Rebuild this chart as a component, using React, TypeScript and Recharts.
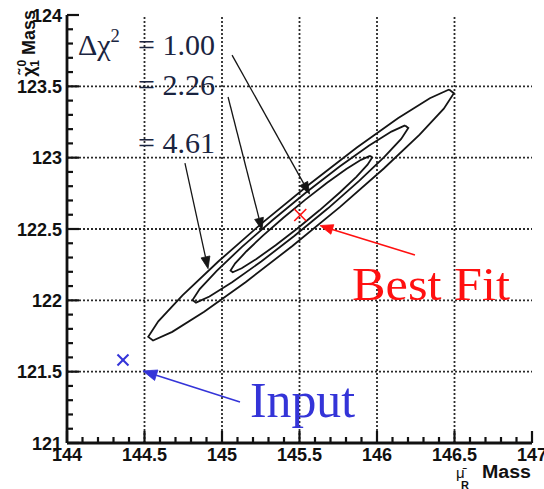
import React from "react";
import {
  ReferenceLine,
  Scatter,
  ScatterChart,
  XAxis,
  YAxis,
} from "recharts";

// axis ticks (major every 0.5, minor every 0.1)
const X_TICKS = [
  144, 144.1, 144.2, 144.3, 144.4, 144.5, 144.6, 144.7, 144.8, 144.9,
  145, 145.1, 145.2, 145.3, 145.4, 145.5, 145.6, 145.7, 145.8, 145.9,
  146, 146.1, 146.2, 146.3, 146.4, 146.5, 146.6, 146.7, 146.8, 146.9, 147,
];
const Y_TICKS = [
  121, 121.1, 121.2, 121.3, 121.4, 121.5, 121.6, 121.7, 121.8, 121.9,
  122, 122.1, 122.2, 122.3, 122.4, 122.5, 122.6, 122.7, 122.8, 122.9,
  123, 123.1, 123.2, 123.3, 123.4, 123.5, 123.6, 123.7, 123.8, 123.9, 124,
];
const GRID_X = [144.5, 145, 145.5, 146, 146.5];
const GRID_Y = [121.5, 122, 122.5, 123, 123.5];

// contours
const CONTOUR_461 = [
  { x: 146.465, y: 123.478 }, { x: 146.496, y: 123.452 }, { x: 146.431, y: 123.343 },
  { x: 146.275, y: 123.161 }, { x: 146.044, y: 122.924 }, { x: 145.762, y: 122.655 },
  { x: 145.454, y: 122.381 }, { x: 145.152, y: 122.127 }, { x: 144.885, y: 121.92 },
  { x: 144.679, y: 121.779 }, { x: 144.555, y: 121.718 }, { x: 144.524, y: 121.744 },
  { x: 144.589, y: 121.853 }, { x: 144.745, y: 122.035 }, { x: 144.976, y: 122.272 },
  { x: 145.258, y: 122.541 }, { x: 145.566, y: 122.815 }, { x: 145.868, y: 123.069 },
  { x: 146.135, y: 123.276 }, { x: 146.341, y: 123.417 }, { x: 146.465, y: 123.478 },
];
const CONTOUR_226 = [
  { x: 146.181, y: 123.226 }, { x: 146.202, y: 123.208 }, { x: 146.156, y: 123.131 },
  { x: 146.046, y: 123.003 }, { x: 145.883, y: 122.835 }, { x: 145.684, y: 122.645 },
  { x: 145.466, y: 122.451 }, { x: 145.253, y: 122.272 }, { x: 145.065, y: 122.126 },
  { x: 144.919, y: 122.027 }, { x: 144.832, y: 121.984 }, { x: 144.81, y: 122.002 },
  { x: 144.856, y: 122.079 }, { x: 144.966, y: 122.207 }, { x: 145.129, y: 122.375 },
  { x: 145.329, y: 122.565 }, { x: 145.546, y: 122.759 }, { x: 145.759, y: 122.938 },
  { x: 145.947, y: 123.084 }, { x: 146.093, y: 123.183 }, { x: 146.181, y: 123.226 },
];
const CONTOUR_100 = [
  { x: 145.955, y: 123.013 }, { x: 145.969, y: 123.001 }, { x: 145.939, y: 122.951 },
  { x: 145.867, y: 122.866 }, { x: 145.76, y: 122.756 }, { x: 145.629, y: 122.631 },
  { x: 145.486, y: 122.504 }, { x: 145.346, y: 122.386 }, { x: 145.222, y: 122.29 },
  { x: 145.127, y: 122.225 }, { x: 145.069, y: 122.197 }, { x: 145.055, y: 122.209 },
  { x: 145.085, y: 122.259 }, { x: 145.158, y: 122.344 }, { x: 145.264, y: 122.454 },
  { x: 145.396, y: 122.579 }, { x: 145.538, y: 122.706 }, { x: 145.678, y: 122.824 },
  { x: 145.802, y: 122.92 }, { x: 145.897, y: 122.985 }, { x: 145.955, y: 123.013 },
];

const BEST_FIT = [{ x: 145.505, y: 122.598 }];
const INPUT = [{ x: 144.361, y: 121.582 }];

// arrows: start -> tip
const ARROWS = [
  { id: "chi100", x1: 145.065, y1: 123.719, x2: 145.565, y2: 122.745 },
  { id: "chi226", x1: 145.039, y1: 123.425, x2: 145.258, y2: 122.493 },
  { id: "chi461", x1: 144.761, y1: 122.962, x2: 144.91, y2: 122.222 },
  { id: "best", x1: 146.245, y1: 122.317, x2: 145.632, y2: 122.524 },
  { id: "input", x1: 145.116, y1: 121.287, x2: 144.49, y2: 121.505 },
];

const ANNOTATIONS = [
  { id: "delta", x: 144.071, y: 123.719, text: "Δχ", sup: "2" },
  { id: "chi", x: 144.458, y: 123.719, text: "= 1.00" },
  { id: "chi", x: 144.458, y: 123.439, text: "= 2.26" },
  { id: "chi", x: 144.458, y: 123.032, text: "= 4.61" },
  { id: "best", x: 145.839, y: 122.002, text: "Best Fit" },
  { id: "input", x: 145.181, y: 121.182, text: "Input" },
];

const INK = "#151515";
const RED = "#ff1010";
const BLUE = "#3434d8";
const NAVY = "#1a2440";
const SERIF = "'Liberation Serif', 'Times New Roman', serif";
const SANS = "'Liberation Sans', Arial, Helvetica, sans-serif";
const FRAME = { stroke: "#111", strokeWidth: 2.8 };

const ARROW_STYLE: Record<string, { color: string; len: number; half: number; w: number }> = {
  chi100: { color: INK, len: 12, half: 4.5, w: 1.3 },
  chi226: { color: INK, len: 12, half: 4.5, w: 1.3 },
  chi461: { color: INK, len: 12, half: 4.5, w: 1.3 },
  best: { color: RED, len: 13, half: 5, w: 1.6 },
  input: { color: BLUE, len: 14, half: 5.5, w: 1.6 },
};

const ANNOTATION_STYLE: Record<string, { color: string; size: number; length?: number }> = {
  delta: { color: NAVY, size: 30 },
  chi: { color: NAVY, size: 30 },
  best: { color: RED, size: 47, length: 158 },
  input: { color: BLUE, size: 50, length: 105 },
};

const isMajor = (v: number) => Math.abs(v * 2 - Math.round(v * 2)) < 1e-6;
const fmt = (v: number) => String(Math.round(v * 10) / 10);

// ticks point into the plot, ROOT style
function XTick(props: any) {
  const { x, y, payload } = props;
  const v = payload.value;
  const major = isMajor(v);
  return (
    <g>
      <line x1={x} x2={x} y1={y} y2={y - (major ? 12 : 6)} stroke="#111" strokeWidth={2.2} />
      {major && (
        <text x={x} y={y + 18} textAnchor="middle" fontFamily={SANS} fontWeight="bold" fontSize={18} fill="#111">
          {fmt(v)}
        </text>
      )}
    </g>
  );
}

function YTick(props: any) {
  const { x, y, payload } = props;
  const v = payload.value;
  const major = isMajor(v);
  return (
    <g>
      <line x1={x} x2={x + (major ? 12 : 6)} y1={y} y2={y} stroke="#111" strokeWidth={2.2} />
      {major && (
        <text x={x - 5} y={y + 6.5} textAnchor="end" fontFamily={SANS} fontWeight="bold" fontSize={18} fill="#111">
          {fmt(v)}
        </text>
      )}
    </g>
  );
}

function XTitle(props: any) {
  const vb = props.viewBox || { x: 67, y: 443, width: 465, height: 46 };
  const right = vb.x + vb.width - 1;
  const base = vb.y + 35;
  return (
    <g>
      <text x={right} y={base} textAnchor="end" fontFamily={SANS} fontWeight="bold" fontSize={18} fill="#111" textLength={49} lengthAdjust="spacingAndGlyphs">
        Mass
      </text>
      <text x={right - 75} y={base} fontFamily={SANS} fontSize={15} fill="#111">
        μ̄
      </text>
      <text x={right - 70} y={base + 11} fontFamily={SANS} fontWeight="bold" fontSize={11} fill="#111">
        R
      </text>
    </g>
  );
}

function YTitle(props: any) {
  const vb = props.viewBox || { x: 0, y: 15, width: 67, height: 428 };
  const bx = vb.x + 35;
  const by = vb.y - 5;
  return (
    <text
      x={bx}
      y={by}
      transform={`rotate(-90, ${bx}, ${by})`}
      textAnchor="end"
      fontFamily={SANS}
      fontWeight="bold"
      fontSize={18}
      fill="#111"
    >
      <tspan>χ̃</tspan>
      <tspan fontSize={12} dy={-9}>0</tspan>
      <tspan fontSize={12} dy={13} dx={-7}>1</tspan>
      <tspan dy={-4}> Mass</tspan>
    </text>
  );
}

function arrowShape(id: string) {
  const st = ARROW_STYLE[id];
  return (p: any) => {
    const { x1, y1, x2, y2 } = p;
    const ang = Math.atan2(y2 - y1, x2 - x1);
    const c = Math.cos(ang);
    const s = Math.sin(ang);
    const bx = x2 - st.len * c;
    const by = y2 - st.len * s;
    const pts = `${x2},${y2} ${bx - st.half * s},${by + st.half * c} ${bx + st.half * s},${by - st.half * c}`;
    return (
      <g>
        <line x1={x1} y1={y1} x2={bx} y2={by} stroke={st.color} strokeWidth={st.w} />
        <polygon points={pts} fill={st.color} stroke={st.color} strokeWidth={0.8} />
      </g>
    );
  };
}

function crossShape(color: string, half: number, w: number) {
  return (p: any) => (
    <g>
      <line x1={p.cx - half} y1={p.cy - half} x2={p.cx + half} y2={p.cy + half} stroke={color} strokeWidth={w} />
      <line x1={p.cx - half} y1={p.cy + half} x2={p.cx + half} y2={p.cy - half} stroke={color} strokeWidth={w} />
    </g>
  );
}

function AnnotationShape(props: any) {
  const { cx, cy, payload } = props;
  const st = ANNOTATION_STYLE[payload.id];
  return (
    <text
      x={cx}
      y={cy}
      fill={st.color}
      fontSize={st.size}
      fontFamily={SERIF}
      textLength={st.length}
      lengthAdjust={st.length ? "spacingAndGlyphs" : undefined}
    >
      {payload.text}
      {payload.sup && (
        <tspan dy={-st.size * 0.42} fontSize={st.size * 0.62}>
          {payload.sup}
        </tspan>
      )}
    </text>
  );
}

const Empty = () => <g />;

export default function App() {
  return (
    <div style={{ position: "absolute", left: 0, top: 0, width: 544, height: 489, background: "#fff" }}>
      <ScatterChart width={544} height={489} margin={{ top: 15, right: 12, bottom: 0, left: 0 }}>
        <XAxis
          type="number"
          dataKey="x"
          domain={[144, 147]}
          ticks={X_TICKS}
          interval={0}
          allowDataOverflow
          height={46}
          tickSize={0}
          tickMargin={0}
          tickLine={false}
          axisLine={FRAME}
          tick={<XTick />}
          label={{ content: (p: any) => <XTitle {...p} /> }}
        />
        <XAxis
          xAxisId="top"
          orientation="top"
          type="number"
          dataKey="x"
          domain={[144, 147]}
          allowDataOverflow
          height={0}
          tick={false}
          tickLine={false}
          axisLine={FRAME}
        />
        <YAxis
          type="number"
          dataKey="y"
          domain={[121, 124]}
          ticks={Y_TICKS}
          interval={0}
          allowDataOverflow
          width={67}
          tickSize={0}
          tickMargin={0}
          tickLine={false}
          axisLine={FRAME}
          tick={<YTick />}
          label={{ content: (p: any) => <YTitle {...p} /> }}
        />
        <YAxis
          yAxisId="right"
          orientation="right"
          type="number"
          dataKey="y"
          domain={[121, 124]}
          allowDataOverflow
          width={0}
          tick={false}
          tickLine={false}
          axisLine={FRAME}
        />

        {GRID_X.map((v) => (
          <ReferenceLine key={`gx-${v}`} x={v} stroke="#2a2a2a" strokeWidth={1.8} strokeDasharray="2 2" />
        ))}
        {GRID_Y.map((v) => (
          <ReferenceLine key={`gy-${v}`} y={v} stroke="#2a2a2a" strokeWidth={1.8} strokeDasharray="2 2" />
        ))}

        <Scatter data={CONTOUR_461} line={{ stroke: INK, strokeWidth: 1.8 }} lineType="joint" shape={Empty} isAnimationActive={false} />
        <Scatter data={CONTOUR_226} line={{ stroke: INK, strokeWidth: 1.8 }} lineType="joint" shape={Empty} isAnimationActive={false} />
        <Scatter data={CONTOUR_100} line={{ stroke: INK, strokeWidth: 1.8 }} lineType="joint" shape={Empty} isAnimationActive={false} />

        {ARROWS.map((a) => (
          <ReferenceLine
            key={`ar-${a.id}`}
            segment={[{ x: a.x1, y: a.y1 }, { x: a.x2, y: a.y2 }]}
            ifOverflow="visible"
            shape={arrowShape(a.id)}
          />
        ))}

        <Scatter data={BEST_FIT} shape={crossShape(RED, 6, 1.6)} isAnimationActive={false} />
        <Scatter data={INPUT} shape={crossShape(BLUE, 5.5, 2)} isAnimationActive={false} />
        <Scatter data={ANNOTATIONS} shape={AnnotationShape} isAnimationActive={false} />
      </ScatterChart>
    </div>
  );
}
